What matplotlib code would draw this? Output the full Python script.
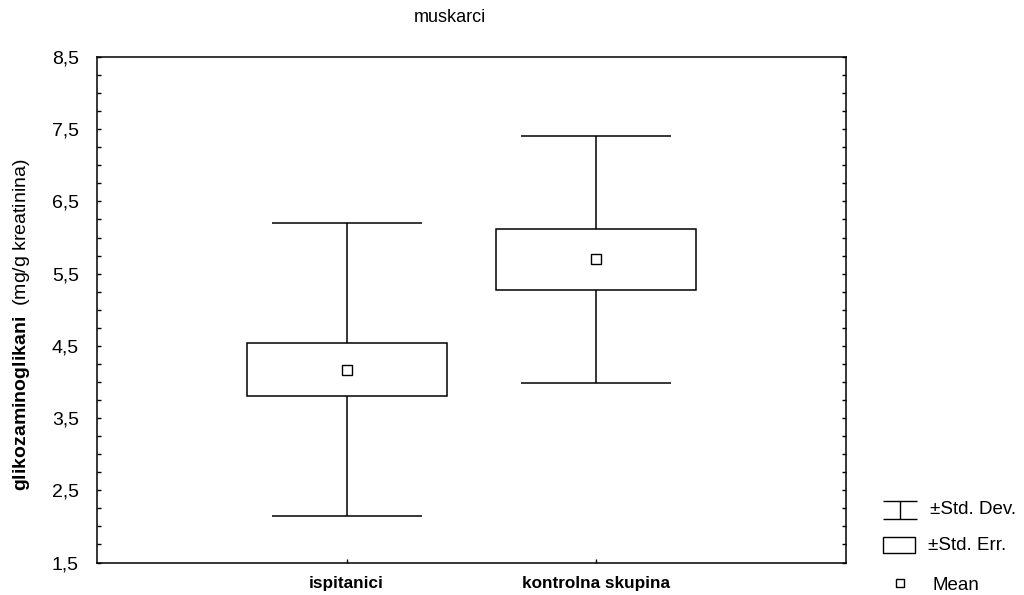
import matplotlib
matplotlib.use("Agg")
import matplotlib.pyplot as plt
from matplotlib.patches import Rectangle
from matplotlib.ticker import MultipleLocator, FuncFormatter


groups = ["ispitanici", "kontrolna skupina"]
means = [4.17, 5.70]
std_dev = [2.03, 1.71]
std_err = [0.37, 0.42]
y_ticks = [1.5, 2.5, 3.5, 4.5, 5.5, 6.5, 7.5, 8.5]

TITLE = "muskarci"
Y_LABEL = r"$\bf{glikozaminoglikani}$  (mg/g kreatinina)"

plt.rcParams["font.family"] = ["Liberation Sans", "DejaVu Sans"]
plt.rcParams["mathtext.fontset"] = "custom"
plt.rcParams["mathtext.rm"] = "Liberation Sans"
plt.rcParams["mathtext.bf"] = "Liberation Sans:bold"

fig = plt.figure(figsize=(10.24, 5.95), dpi=100)
ax = fig.add_axes([97 / 1024, 32.5 / 595, 749 / 1024, 505.5 / 595])

box_w = 0.8
cap_w = 0.6
positions = [i + 1 for i in range(len(groups))]

for x, m, sd, se in zip(positions, means, std_dev, std_err):
    # whisker = mean +/- SD, drawn behind the SE box
    ax.vlines(x, m - sd, m + sd, color="black", lw=1.1, zorder=1)
    ax.hlines([m - sd, m + sd], x - cap_w / 2, x + cap_w / 2, color="black", lw=1.1, zorder=1)
    ax.add_patch(Rectangle((x - box_w / 2, m - se), box_w, 2 * se,
                           facecolor="white", edgecolor="black", lw=1.1, zorder=2))
    ax.plot(x, m, marker="s", ms=6.5, mfc="white", mec="black", mew=1.0, zorder=3)

ax.set_xlim(0, 3)
ax.set_ylim(y_ticks[0], y_ticks[-1])
ax.set_xticks(positions)
ax.set_xticklabels(groups, fontweight="bold", fontsize=12.3)
ax.set_yticks(y_ticks)
ax.yaxis.set_minor_locator(MultipleLocator(0.25))
ax.yaxis.set_major_formatter(FuncFormatter(lambda v, p: f"{v:.1f}".replace(".", ",")))
ax.tick_params(axis="y", which="both", direction="in", length=3, width=1.0,
               left=True, right=True, labelsize=14, pad=13)
ax.tick_params(axis="x", direction="in", length=3, width=1.0, pad=10)
for sp in ax.spines.values():
    sp.set_linewidth(1.1)

fig.text(22 / 1024, 1 - 325 / 595, Y_LABEL, rotation=90, ha="center", va="center", fontsize=14)
fig.text(450 / 1024, 1 - 18 / 595, TITLE, ha="center", va="center", fontsize=13)

# legend, laid out in figure pixels
leg = fig.add_axes([0, 0, 1, 1], facecolor="none")
leg.set_xlim(0, 1024)
leg.set_ylim(595, 0)
leg.axis("off")
leg.hlines([501, 519], 883, 917, color="black", lw=1.0)
leg.vlines(900, 501, 519, color="black", lw=1.0)
leg.text(930, 510, "\u00b1Std. Dev.", va="center", ha="left", fontsize=13.5)
leg.add_patch(Rectangle((883, 537), 32, 16, facecolor="white", edgecolor="black", lw=1.0))
leg.text(928, 545, "\u00b1Std. Err.", va="center", ha="left", fontsize=13.5)
leg.plot(900, 583, marker="s", ms=6, mfc="white", mec="black", mew=1.0)
leg.text(932, 586, "Mean", va="center", ha="left", fontsize=13.5)

fig.savefig("out.png", dpi=100)
